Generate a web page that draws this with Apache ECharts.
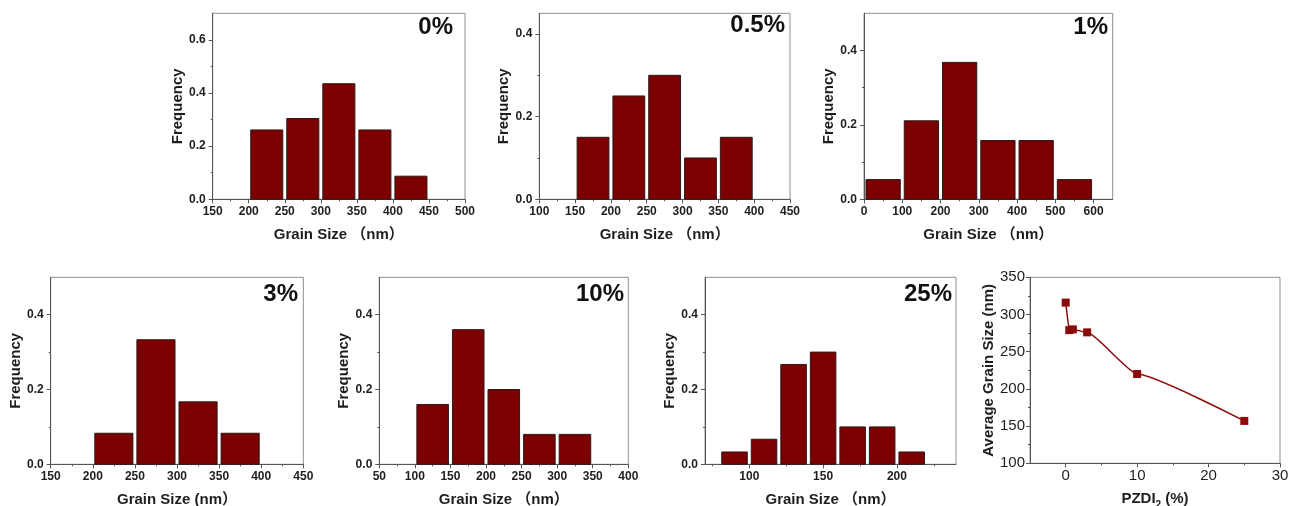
<!DOCTYPE html>
<html><head><meta charset="utf-8">
<script src="https://cdn.jsdelivr.net/npm/echarts@6/dist/echarts.min.js"></script>
<style>html,body{margin:0;padding:0;background:#fff}#c{width:1290px;height:506px}</style>
</head><body><div id="c"></div>
<script>
// ---------- DATA ----------
// 0%
const edges0 = [200, 250, 300, 350, 400, 450];
const freq0 = [0.261, 0.304, 0.435, 0.261, 0.087];
// 0.5%
const edges05 = [150, 200, 250, 300, 350, 400];
const freq05 = [0.15, 0.25, 0.30, 0.10, 0.15];
// 1%
const edges1 = [0, 100, 200, 300, 400, 500, 600];
const freq1 = [0.053, 0.211, 0.368, 0.158, 0.158, 0.053];
// 3%
const edges3 = [200, 250, 300, 350, 400];
const freq3 = [0.083, 0.333, 0.167, 0.083];
// 10%
const edges10 = [100, 150, 200, 250, 300, 350];
const freq10 = [0.16, 0.36, 0.20, 0.08, 0.08];
// 25%
const edges25 = [80, 100, 120, 140, 160, 180, 200, 220];
const freq25 = [0.033, 0.067, 0.267, 0.300, 0.100, 0.100, 0.033];
// Average grain size vs PZDI2
const pzdi = [0, 0.5, 1, 3, 10, 25];
const avgSize = [316, 279, 280, 276, 220, 157];

// tick labels
const xMajor0 = [150, 200, 250, 300, 350, 400, 450, 500];
const xMinor0 = [175, 225, 275, 325, 375, 425, 475];
const xMajor05 = [100, 150, 200, 250, 300, 350, 400, 450];
const xMinor05 = [125, 175, 225, 275, 325, 375, 425];
const xMajor1 = [0, 100, 200, 300, 400, 500, 600];
const xMinor1 = [50, 150, 250, 350, 450, 550];
const xMajor3 = [150, 200, 250, 300, 350, 400, 450];
const xMinor3 = [175, 225, 275, 325, 375, 425];
const xMajor10 = [50, 100, 150, 200, 250, 300, 350, 400];
const xMinor10 = [75, 125, 175, 225, 275, 325, 375];
const xMajor25 = [100, 150, 200];
const xMinor25 = [75, 125, 175, 225];
const yMajorA = [0, 0.2, 0.4, 0.6];
const yMinorA = [0.1, 0.3, 0.5];
const yMajorB = [0, 0.2, 0.4];
const yMinorB = [0.1, 0.3];
const xMajorAvg = [0, 10, 20, 30];
const xMinorAvg = [5, 15, 25];
const yMajorAvg = [100, 150, 200, 250, 300, 350];
const yMinorAvg = [125, 175, 225, 275, 325];

// ---------- STYLE / LAYOUT ----------
const FONT = "'Liberation Sans', Arial, 'Noto Sans CJK SC', sans-serif";
const BAR = '#7d0000';
const AXIS = '#555';
const TXT = '#1e1e1e';

const grids = [], xAxes = [], yAxes = [], series = [], titles = [];

function addPanel(cfg) {
  const gi = grids.length;
  grids.push({left: cfg.box[0], top: cfg.box[1], width: cfg.box[2], height: cfg.box[3],
    containLabel: false, outerBoundsMode: 'none',
    show: true, borderColor: '#8f8f8f', borderWidth: 1, backgroundColor: 'transparent'});
  const lblFont = cfg.lblFont || {fontSize: 12, fontWeight: 'bold'};
  xAxes.push({
    type: 'value', gridIndex: gi, position: 'bottom', min: cfg.xr[0], max: cfg.xr[1],
    name: cfg.xName, nameLocation: 'middle', nameGap: cfg.xNameGap || 28,
    nameTextStyle: {fontFamily: FONT, fontSize: 15, fontWeight: 'bold', color: TXT, rich: cfg.xRich},
    axisLine: {show: true, onZero: false, lineStyle: {color: AXIS, width: 1}},
    axisTick: {show: true, length: 4, customValues: cfg.xMajor, lineStyle: {color: AXIS}},
    axisLabel: Object.assign({customValues: cfg.xMajor, margin: cfg.xMargin || 6, color: TXT, fontFamily: FONT}, lblFont),
    splitLine: {show: false}
  });
  xAxes.push({
    type: 'value', gridIndex: gi, position: 'bottom', offset: 0, min: cfg.xr[0], max: cfg.xr[1],
    axisLine: {show: false, onZero: false}, axisLabel: {show: false}, splitLine: {show: false},
    axisTick: {show: true, length: 2, customValues: cfg.xMinor, lineStyle: {color: AXIS}}
  });
  yAxes.push({
    type: 'value', gridIndex: gi, position: 'left', min: cfg.yr[0], max: cfg.yr[1],
    name: cfg.yName, nameLocation: 'middle', nameGap: cfg.yNameGap || 27,
    nameTextStyle: {fontFamily: FONT, fontSize: 15, fontWeight: 'bold', color: TXT},
    axisLine: {show: true, onZero: false, lineStyle: {color: AXIS, width: 1}},
    axisTick: {show: true, length: 4, customValues: cfg.yMajor, lineStyle: {color: AXIS}},
    axisLabel: Object.assign({customValues: cfg.yMajor, margin: cfg.yMargin || 7, color: TXT, fontFamily: FONT,
      formatter: cfg.yFmt || (v => v.toFixed(1))}, lblFont),
    splitLine: {show: false}
  });
  yAxes.push({
    type: 'value', gridIndex: gi, position: 'left', offset: 0, min: cfg.yr[0], max: cfg.yr[1],
    axisLine: {show: false, onZero: false}, axisLabel: {show: false}, splitLine: {show: false},
    axisTick: {show: true, length: 2, customValues: cfg.yMinor, lineStyle: {color: AXIS}}
  });
  if (cfg.edges) {
    const data = cfg.freq.map((f, i) => [cfg.edges[i], cfg.edges[i + 1], f]);
    series.push({
      type: 'custom', xAxisIndex: 2 * gi, yAxisIndex: 2 * gi, data: data,
      encode: {x: [0, 1], y: 2},
      renderItem: function (params, api) {
        const p0 = api.coord([api.value(0), api.value(2)]);
        const p1 = api.coord([api.value(1), 0]);
        const inset = 2;
        return {type: 'rect',
          shape: {x: p0[0] + inset, y: p0[1], width: p1[0] - p0[0] - 2 * inset, height: p1[1] - p0[1]},
          style: {fill: BAR, stroke: '#2b1a1a', lineWidth: 1}};
      }
    });
  }
  if (cfg.label) {
    titles.push({text: cfg.label, right: cfg.labelPos[0], top: cfg.labelPos[1], padding: 0,
      textStyle: {fontFamily: FONT, fontSize: 24, fontWeight: 'bold', color: '#111'}});
  }
  return gi;
}

addPanel({box: [212.7, 13.3, 252.3, 186], xr: [150, 500], yr: [0, 0.7], xMajor: xMajor0, xMinor: xMinor0,
  yMajor: yMajorA, yMinor: yMinorA, xName: 'Grain Size （nm）', yName: 'Frequency',
  edges: edges0, freq: freq0, label: '0%', labelPos: [837, 15]});
addPanel({box: [539.3, 13.3, 250.7, 186], xr: [100, 450], yr: [0, 0.45], xMajor: xMajor05, xMinor: xMinor05,
  yMajor: yMajorB, yMinor: yMinorB, xName: 'Grain Size （nm）', yName: 'Frequency',
  edges: edges05, freq: freq05, label: '0.5%', labelPos: [505, 13]});
addPanel({box: [864, 13.3, 248.7, 186], xr: [0, 650], yr: [0, 0.5], xMajor: xMajor1, xMinor: xMinor1,
  yMajor: yMajorB, yMinor: yMinorB, xName: 'Grain Size （nm）', yName: 'Frequency',
  edges: edges1, freq: freq1, label: '1%', labelPos: [182, 15]});
addPanel({box: [50.7, 277.3, 252.6, 187], xr: [150, 450], yr: [0, 0.5], xMajor: xMajor3, xMinor: xMinor3,
  yMajor: yMajorB, yMinor: yMinorB, xName: 'Grain Size (nm）', yName: 'Frequency', xNameGap: 28,
  edges: edges3, freq: freq3, label: '3%', labelPos: [992, 282]});
addPanel({box: [379.3, 277.3, 249, 187], xr: [50, 400], yr: [0, 0.5], xMajor: xMajor10, xMinor: xMinor10,
  yMajor: yMajorB, yMinor: yMinorB, xName: 'Grain Size （nm）', yName: 'Frequency', xNameGap: 28,
  edges: edges10, freq: freq10, label: '10%', labelPos: [666, 282]});
addPanel({box: [705, 277.3, 251, 187], xr: [70, 240], yr: [0, 0.5], xMajor: xMajor25, xMinor: xMinor25,
  yMajor: yMajorB, yMinor: yMinorB, xName: 'Grain Size （nm）', yName: 'Frequency', xNameGap: 28,
  edges: edges25, freq: freq25, label: '25%', labelPos: [338, 282]});
const gAvg = addPanel({box: [1030, 277.3, 250, 186], xr: [-5, 30], yr: [100, 350],
  xMajor: xMajorAvg, xMinor: xMinorAvg, yMajor: yMajorAvg, yMinor: yMinorAvg,
  xName: 'PZDI{sub|2} (%)', xRich: {sub: {fontFamily: FONT, fontSize: 10, fontWeight: 'bold', color: TXT, verticalAlign: 'bottom', padding: [12, 0, 0, 0]}},
  yName: 'Average Grain Size (nm)', yNameGap: 34, xNameGap: 25, xMargin: 5, yMargin: 5,
  lblFont: {fontSize: 15, fontWeight: 'normal'}, yFmt: v => String(v)});
series.push({
  type: 'line', xAxisIndex: 2 * gAvg, yAxisIndex: 2 * gAvg,
  data: pzdi.map((x, i) => [x, avgSize[i]]),
  smooth: 0.15, smoothMonotone: 'x',
  symbol: 'rect', symbolSize: 8,
  itemStyle: {color: '#8a0a0a'},
  lineStyle: {color: '#8a0a0a', width: 1.5}
});

const chart = echarts.init(document.getElementById('c'), null, {renderer: 'canvas'});
chart.setOption({
  animation: false,
  backgroundColor: '#fff',
  title: titles,
  grid: grids,
  xAxis: xAxes,
  yAxis: yAxes,
  series: series
});
</script></body></html>
